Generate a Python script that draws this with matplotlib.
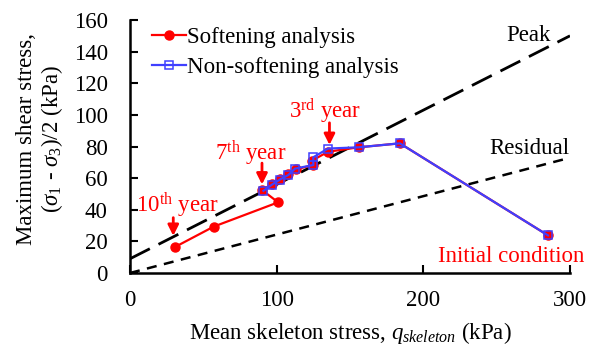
import numpy as np
import matplotlib
matplotlib.use('Agg')
import matplotlib.pyplot as plt

plt.rcParams['font.family'] = ['Liberation Serif', 'DejaVu Serif']
plt.rcParams['mathtext.fontset'] = 'custom'
plt.rcParams['mathtext.rm'] = 'Liberation Serif'
plt.rcParams['mathtext.it'] = 'Liberation Serif:italic'
plt.rcParams['font.size'] = 16.5

# softening analysis: initial condition -> 10th year
soft_q = [285, 184, 156, 135, 124, 125, 113, 108, 102, 96.5, 90, 101, 57, 31]
soft_t = [23.8, 82, 79.5, 76.7, 71, 68.3, 65.5, 62.5, 59.5, 56, 52.5, 44.7, 29.3, 16.6]

# non-softening analysis
nons_q = [285, 184, 156, 135, 125, 125, 112.5, 108, 102, 96.5, 91]
nons_t = [23.8, 82, 79.5, 78.7, 73.2, 68.3, 66, 62, 59, 55.7, 52]

# failure lines
peak_c, peak_slope = 9.0, 0.47
res_c, res_slope = 0.0, 0.243
line_q = np.array([0, 300])

fig = plt.figure(figsize=(5.92, 3.45), dpi=100)
ax = fig.add_axes([0.2196, 0.2087, 0.7432, 0.7333])

ax.plot(line_q, peak_c + peak_slope*line_q, color='black', lw=2, dashes=(8, 3.5))
ax.plot(line_q, res_c + res_slope*line_q, color='black', lw=1.8, dashes=(4, 3))

ax.plot(soft_q, soft_t, color='red', lw=1.6, marker='o', ms=6.5,
        label='Softening analysis', zorder=3)
ax.plot(nons_q, nons_t, color='#3f3fff', lw=1.6, marker='s', ms=6,
        mfc='none', mew=1.1, label='Non-softening analysis', zorder=4)

# annotations
ax.text(272, 150, 'Peak', ha='center', va='center')
ax.text(272, 79, 'Residual', ha='center', va='center')
ax.text(260, 10.5, 'Initial condition', ha='center', va='center', color='red', clip_on=False)

arr = dict(arrowstyle='-|>', color='red', lw=2, mutation_scale=16, shrinkA=0, shrinkB=0)
ax.text(133, 102, '3$^{\\mathrm{rd}}$ year', ha='center', va='center', color='red')
ax.annotate('', xy=(136, 81), xytext=(136, 95), arrowprops=arr)
ax.text(82.5, 76, '7$^{\\mathrm{th}}$ year', ha='center', va='center', color='red')
ax.annotate('', xy=(90, 56), xytext=(90, 69.5), arrowprops=arr)
ax.text(32, 43, '10$^{\\mathrm{th}}$ year', ha='center', va='center', color='red')
ax.annotate('', xy=(29.5, 23.5), xytext=(29.5, 35), arrowprops=arr)

ax.set_xlim(0, 300)
ax.set_ylim(0, 160)
ax.set_xticks([0, 100, 200, 300])
ax.set_yticks(np.arange(0, 161, 20))
ax.spines['top'].set_visible(False)
ax.spines['right'].set_visible(False)
ax.spines['left'].set_linewidth(1.8)
ax.spines['bottom'].set_linewidth(1.8)
ax.tick_params(axis='both', direction='in', length=6, width=1.5)
ax.tick_params(axis='y', pad=16)
ax.tick_params(axis='x', pad=12)

ax.set_xlabel('Mean skeleton stress, $q_{skeleton}$ (kPa)', labelpad=7)
ax.set_ylabel('Maximum shear stress,\n($\\sigma_{\\mathit{1}}$ - $\\sigma_{\\mathit{3}}$)/2 (kPa)',
              linespacing=1.1)
ax.yaxis.set_label_coords(-0.148, 0.53)

ax.legend(loc='upper left', bbox_to_anchor=(0.03, 1.01), frameon=False,
          handlelength=1.45, handletextpad=0.05, labelspacing=0.4, borderaxespad=0)

fig.savefig('out.png', dpi=100)
